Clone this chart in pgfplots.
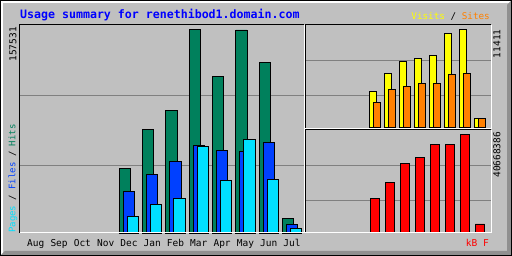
\documentclass[border=0pt]{standalone}
\usepackage{pgfplots}
\pgfplotsset{compat=1.18}
\usepackage{fontspec}
\setmainfont{DejaVu Sans Mono}
\definecolor{bg}{HTML}{C0C0C0}
\definecolor{dk}{HTML}{909090}
\definecolor{gridc}{HTML}{808080}
\definecolor{hits}{HTML}{00805C}
\definecolor{files}{HTML}{0040FF}
\definecolor{pages}{HTML}{00E0FF}
\definecolor{visits}{HTML}{FFFF00}
\definecolor{sites}{HTML}{FF8000}
\definecolor{kbc}{HTML}{FF0000}
\definecolor{titleblue}{HTML}{0000FF}
\pgfplotsset{
  panel/.style={
    scale only axis, anchor=south west,
    scaled y ticks=false,
    axis background/.style={fill=bg},
    axis line style={draw=none},
    ymajorgrids, grid style={gridc, line width=1pt},
    yticklabels={}, major tick length=0pt,
    xtick=\empty,
    after end axis/.code={
      \draw[black, line width=1pt] (rel axis cs:0,0) -- (rel axis cs:0,1) -- (rel axis cs:1,1);
      \draw[white, line width=1pt] (rel axis cs:1,1) -- (rel axis cs:1,0) -- (rel axis cs:0,0);
    },
    clip=false,
  },
  barst/.style={ybar, draw=black, line width=0.8pt},
}
\begin{document}
\begin{tikzpicture}
\useasboundingbox (0pt,0pt) rectangle (512pt,256pt);
\fill[bg] (0pt,0pt) rectangle (512pt,256pt);
\fill[white] (1pt,1pt) rectangle (3pt,255pt);
\fill[white] (1pt,253pt) rectangle (511pt,255pt);
\fill[dk] (1pt,1pt) -- (511pt,1pt) -- (511pt,255pt) -- (507pt,251pt) -- (507pt,5pt) -- (5pt,5pt) -- cycle;
\draw[black, line width=1pt] (0.5pt,0.5pt) rectangle (511.5pt,255.5pt);

% Left panel: hits / files / pages
\begin{axis}[panel, at={(20pt,23pt)}, width=284pt, height=208pt,
  xmin=-0.678, xmax=11.516, ymin=0, ymax=160856,
  ytick={52355,106490},
  xtick={0,1,2,3,4,5,6,7,8,9,10,11},
  xticklabels={Aug,Sep,Oct,Nov,Dec,Jan,Feb,Mar,Apr,May,Jun,Jul},
  xticklabel style={anchor=base, yshift=-14pt, font=\fontsize{9.5}{10}\selectfont},
  major tick length=0pt,
  bar width=11.3pt]
\addplot[barst, fill=hits, bar shift=-4pt] coordinates {(4,49880) (5,80090) (6,94800) (7,157531) (8,121130) (9,157000) (10,131980) (11,11150)};
\addplot[barst, fill=files, bar shift=0pt] coordinates {(4,32060) (5,45230) (6,55300) (7,67690) (8,63820) (9,63040) (10,70010) (11,6510)};
\addplot[barst, fill=pages, bar shift=4pt] coordinates {(4,12700) (5,21990) (6,26640) (7,66920) (8,40580) (9,72340) (10,41360) (11,3410)};
\end{axis}

% Upper right: visits / sites
\begin{axis}[panel, at={(305pt,127pt)}, width=186pt, height=104pt,
  xmin=-0.6667, xmax=11.7333, ymin=-198, ymax=11910,
  ytick={3726,7801}, bar width=7.3pt]
\addplot[barst, fill=visits, bar shift=-2pt] coordinates {(4,4192) (5,6288) (6,7685) (7,8034) (8,8383) (9,10945) (10,11411) (11,1048)};
\addplot[barst, fill=sites, bar shift=2pt] coordinates {(4,2911) (5,4425) (6,4774) (7,5123) (8,5123) (9,6171) (10,6288) (11,1000)};
\end{axis}

% Lower right: kB
\begin{axis}[panel, at={(305pt,23pt)}, width=186pt, height=103pt,
  xmin=-0.6667, xmax=11.7333, ymin=-290000, ymax=42453000,
  ytick={13279000,27804000}, bar width=9.3pt]
\addplot[barst, fill=kbc, bar shift=0pt] coordinates {(4,14109000) (5,20749000) (6,28634000) (7,31124000) (8,36518000) (9,36518000) (10,40668386) (11,3445000)};
\end{axis}

% Texts
\node[anchor=base west, inner sep=0pt, text=titleblue, font=\fontsize{11.6}{12}\selectfont\bfseries] at (20pt,237pt) {Usage summary for renethibod1.domain.com};
\node[anchor=base east, inner sep=0pt, font=\fontsize{9.3}{10}\selectfont] at (490pt,236pt) {\textcolor{visits}{Visits} / \textcolor{sites}{Sites}};
\node[anchor=east, rotate=90, inner sep=0pt, font=\fontsize{9.5}{10}\selectfont] at (13pt,229pt) {157531};
\node[anchor=west, rotate=90, inner sep=0pt, font=\fontsize{9}{10}\selectfont] at (13pt,23pt) {\textcolor{pages}{Pages} / \textcolor{files}{Files} / \textcolor{hits}{Hits}};
\node[anchor=east, rotate=90, inner sep=0pt, font=\fontsize{9.5}{10}\selectfont] at (497pt,226.7pt) {11411};
\node[anchor=east, rotate=90, inner sep=0pt, font=\fontsize{9.5}{10}\selectfont] at (497pt,124.3pt) {40668386};
\node[anchor=base east, inner sep=0pt, text=kbc, font=\fontsize{9.5}{10}\selectfont] at (489pt,9pt) {kB F};
\end{tikzpicture}
\end{document}
